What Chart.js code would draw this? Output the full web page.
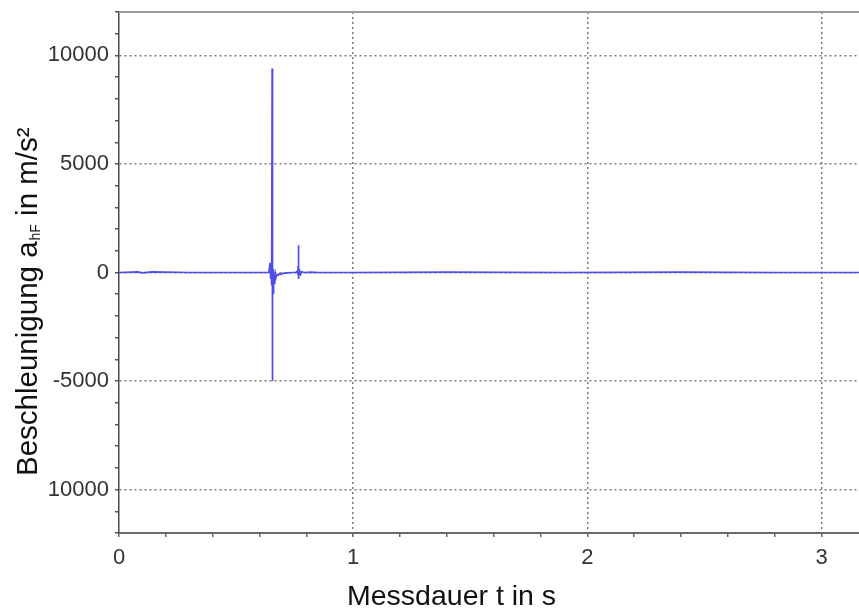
<!DOCTYPE html>
<html>
<head>
<meta charset="utf-8">
<script src="https://cdn.jsdelivr.net/npm/chart.js@4/dist/chart.umd.min.js"></script>
<style>
  html, body { margin: 0; padding: 0; background: #ffffff; }
  #wrap { width: 859px; height: 609px; position: relative; }
</style>
</head>
<body>
<div id="wrap"><canvas id="c" width="859" height="609"></canvas></div>
<script>
// ---- data ----
const timeS = [0, 0.08, 0.1, 0.14, 0.3, 0.5, 0.62, 0.64, 0.645, 0.648, 0.650, 0.652, 0.654, 0.6545, 0.655, 0.6555,
  0.656, 0.657, 0.658, 0.659, 0.660, 0.661, 0.662, 0.664, 0.666, 0.668, 0.670, 0.673, 0.676, 0.680, 0.685,
  0.690, 0.700, 0.710, 0.720, 0.740, 0.755, 0.762, 0.764, 0.765, 0.766, 0.7665, 0.767, 0.768, 0.769, 0.770,
  0.772, 0.775, 0.780, 0.790, 0.820, 0.850, 1.0, 1.4, 1.9, 2.4, 2.8, 3.16];
const accel = [0, 30, -20, 25, 0, 0, 0, 0, 450, -300, 200, -600, 9400, -5000, 300, -900,
  -600, 200, -950, 100, -700, 150, -500, -200, -350, -100, -250, -150, -100, -120, -60,
  -80, -40, -30, -20, 0, 0, 60, -100, 300, 1250, -300, 200, -250, 150, -150,
  80, -80, 30, 0, 20, 0, 0, 20, 0, 20, 0, 0];

const xMin = 0, xMax = 3.16, xStep = 0.2;
const yMin = -12000, yMax = 12000, yStep = 1000;
const xTickValues = [0, 1, 2, 3];
const xTickLabels = ["0", "1", "2", "3"];
const yTickValues = [10000, 5000, 0, -5000, -10000];
const yTickLabels = ["10000", "5000", "0", "-5000", "10000"];

const xTitle = "Messdauer t in s";
const yTitleParts = ["Beschleunigung a", "hF", " in m/s²"];

const points = timeS.map((t, i) => ({ x: t, y: accel[i] }));

const isMajor = (v, list) => list.some(m => Math.abs(m - v) < 1e-6);

const FONT = "'Liberation Sans', Arial, Helvetica, sans-serif";

const titlesPlugin = {
  id: 'titles',
  afterDraw(chart) {
    const ctx = chart.ctx;
    const ca = chart.chartArea;
    ctx.save();
    // top frame line
    ctx.strokeStyle = '#9a9a9a';
    ctx.lineWidth = 2;
    ctx.beginPath();
    ctx.moveTo(ca.left, ca.top);
    ctx.lineTo(chart.width, ca.top);
    ctx.stroke();

    // x title
    ctx.fillStyle = '#111';
    ctx.font = '28.5px ' + FONT;
    ctx.textAlign = 'left';
    ctx.textBaseline = 'alphabetic';
    ctx.fillText(xTitle, 347, 605);

    // y title (rotated, with subscript)
    ctx.translate(37, 476);
    ctx.rotate(-Math.PI / 2);
    let x = 0;
    ctx.font = '29.5px ' + FONT;
    ctx.fillText(yTitleParts[0], x, 0);
    x += ctx.measureText(yTitleParts[0]).width;
    ctx.font = '14px ' + FONT;
    ctx.fillText(yTitleParts[1], x + 1, 3);
    x += ctx.measureText(yTitleParts[1]).width + 1;
    ctx.font = '29.5px ' + FONT;
    ctx.fillText(yTitleParts[2], x, 0);
    ctx.restore();
  }
};

const bgPlugin = {
  id: 'bg',
  beforeDraw(chart) {
    const ctx = chart.ctx;
    ctx.save();
    ctx.fillStyle = '#ffffff';
    ctx.fillRect(0, 0, chart.width, chart.height);
    ctx.restore();
  }
};

new Chart(document.getElementById('c'), {
  type: 'line',
  data: {
    datasets: [{
      data: points,
      borderColor: 'rgb(78, 78, 232)',
      borderWidth: 1.7,
      pointRadius: 0,
      tension: 0,
      fill: false
    }]
  },
  options: {
    responsive: false,
    animation: false,
    maintainAspectRatio: false,
    layout: { padding: { top: 12, left: 0, right: 0, bottom: 0 } },
    plugins: { legend: { display: false }, tooltip: { enabled: false } },
    scales: {
      x: {
        type: 'linear',
        min: xMin, max: xMax,
        afterFit(scale) { scale.height = 76; scale.paddingLeft = 0; scale.paddingRight = 0; },
        afterBuildTicks(scale) {
          const t = [];
          for (let v = 0; v <= xMax + 1e-9; v = Math.round((v + xStep) * 10) / 10) t.push({ value: v });
          scale.ticks = t;
        },
        ticks: {
          autoSkip: false,
          maxRotation: 0,
          padding: 8,
          color: '#333',
          font: { family: FONT, size: 22 },
          callback(v) {
            const i = xTickValues.findIndex(m => Math.abs(m - v) < 1e-6);
            return i >= 0 ? xTickLabels[i] : '';
          }
        },
        grid: {
          color(ctx) {
            const v = ctx.tick ? ctx.tick.value : null;
            return (v !== null && isMajor(v, xTickValues) && v !== 0) ? '#7a7a7a' : 'rgba(0,0,0,0)';
          },
          lineWidth: 1.5,
          drawTicks: true,
          tickLength: 4,
          tickColor: '#666',
          tickWidth: 1.5
        },
        border: { color: '#6a6a6a', width: 2, dash: [2, 3] }
      },
      y: {
        type: 'linear',
        min: yMin, max: yMax,
        afterFit(scale) { scale.width = 119; scale.paddingTop = 0; scale.paddingBottom = 0; },
        afterBuildTicks(scale) {
          const t = [];
          for (let v = yMin; v <= yMax; v += yStep) t.push({ value: v });
          scale.ticks = t;
        },
        ticks: {
          autoSkip: false,
          padding: 6,
          color: '#333',
          font: { family: FONT, size: 22 },
          callback(v) {
            const i = yTickValues.indexOf(v);
            return i >= 0 ? yTickLabels[i] : '';
          }
        },
        grid: {
          color(ctx) {
            const v = ctx.tick ? ctx.tick.value : null;
            return (v !== null && isMajor(v, yTickValues)) ? '#7a7a7a' : 'rgba(0,0,0,0)';
          },
          lineWidth: 1.5,
          drawTicks: true,
          tickLength: 4,
          tickColor: '#555',
          tickWidth: 1.5
        },
        border: { color: '#4a4a4a', width: 1.5, dash: [2, 3] }
      }
    }
  },
  plugins: [bgPlugin, titlesPlugin]
});
</script>
</body>
</html>
